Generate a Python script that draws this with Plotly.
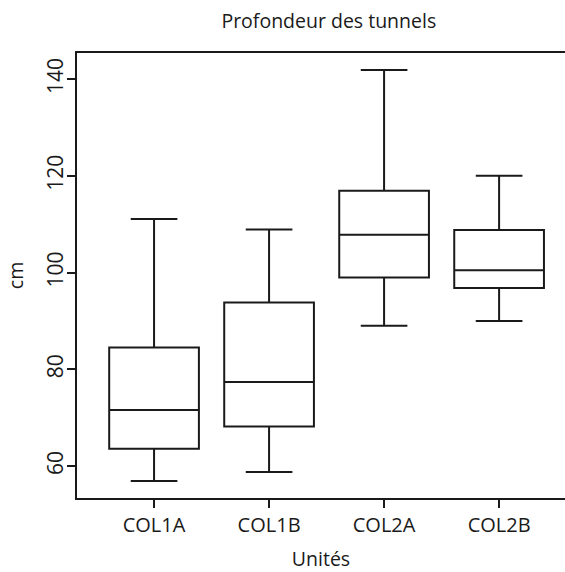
import plotly.graph_objects as go

categories = ["COL1A", "COL1B", "COL2A", "COL2B"]
lower_whisker = [56.9, 58.8, 89.0, 90.0]
q1_values = [63.6, 68.2, 99.0, 96.8]
medians = [71.6, 77.4, 107.8, 100.5]
q3_values = [84.5, 93.8, 116.9, 108.8]
upper_whisker = [111.1, 108.9, 141.9, 120.0]
y_ticks = [60, 80, 100, 120, 140]

FONT = "Open Sans"
INK = "#1a1a1a"

fig = go.Figure()
fig.add_trace(go.Box(
    x=categories,
    q1=q1_values,
    median=medians,
    q3=q3_values,
    lowerfence=lower_whisker,
    upperfence=upper_whisker,
    boxpoints=False,
    width=0.78,
    whiskerwidth=0.52,
    fillcolor="white",
    line=dict(color=INK, width=2),
    showlegend=False,
    hoverinfo="skip",
))

fig.update_layout(
    width=565, height=572,
    margin=dict(l=77, r=0, t=53, b=74),
    paper_bgcolor="white", plot_bgcolor="white",
    font=dict(family=FONT, size=19, color=INK),
    title=dict(text="Profondeur des tunnels", x=0.582, xanchor="center",
               y=0.963, yanchor="middle", font=dict(family=FONT, size=19.5, color=INK)),
    showlegend=False,
)
fig.update_xaxes(
    type="category", range=[-0.67, 3.573], automargin=False,
    showline=True, linecolor=INK, linewidth=2, mirror=True,
    ticks="outside", ticklen=8, tickwidth=1.5, tickcolor=INK,
    showgrid=False, zeroline=False,
    title=dict(text="Unités", standoff=15, font=dict(size=19.5)),
    tickfont=dict(size=20),
)
fig.update_yaxes(
    range=[53.4, 145.4], tickvals=y_ticks, automargin=False,
    showline=True, linecolor=INK, linewidth=2, mirror=False,
    ticks="outside", ticklen=8, tickwidth=1.5, tickcolor=INK,
    tickangle=-90, ticklabelstandoff=-4,
    showgrid=False, zeroline=False,
    title=dict(text="cm", standoff=12, font=dict(size=19.5)),
    tickfont=dict(size=21),
)

fig.write_html("out.html", config={"displayModeBar": False},
               post_script="document.body.style.margin='0';")
